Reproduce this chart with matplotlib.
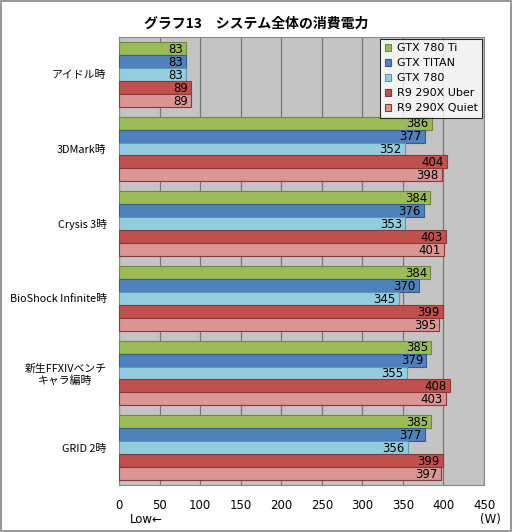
import matplotlib
matplotlib.use('Agg')
import matplotlib.pyplot as plt
from matplotlib.patches import Rectangle
import numpy as np

plt.rcParams['font.family'] = ['Noto Sans CJK JP', 'DejaVu Sans']

categories = ['アイドル時', '3DMark時', 'Crysis 3時', 'BioShock Infinite時',
              '新生FFXIVベンチ\nキャラ編時', 'GRID 2時']
series = ['GTX 780 Ti', 'GTX TITAN', 'GTX 780', 'R9 290X Uber', 'R9 290X Quiet']
gtx780ti = [83, 386, 384, 384, 385, 385]
gtxtitan = [83, 377, 376, 370, 379, 377]
gtx780 = [83, 352, 353, 345, 355, 356]
r9uber = [89, 404, 403, 399, 408, 399]
r9quiet = [89, 398, 401, 395, 403, 397]
values = [gtx780ti, gtxtitan, gtx780, r9uber, r9quiet]
colors = ['#9BBB59', '#4F81BD', '#93CDDD', '#C0504D', '#D99694']
edges = ['#71893F', '#385D8A', '#5E9AAB', '#8C3836', '#8C3836']
xticks = [0, 50, 100, 150, 200, 250, 300, 350, 400, 450]

fig = plt.figure(figsize=(5.12, 5.32), dpi=100)
fig.patches.append(Rectangle((0.002, 0.002), 0.996, 0.996, transform=fig.transFigure,
                             fill=False, edgecolor='#888888', lw=1.2))
ax = fig.add_axes([119/512, 1 - 485/532, 365/512, 448/532])
ax.set_facecolor('#C4C4C4')

h = 0.174
ncat = len(categories)
for i, (vals, c, ec, name) in enumerate(zip(values, colors, edges, series)):
    y = np.arange(ncat) + (i - 2) * h
    ax.barh(y, vals, height=h, color=c, edgecolor=ec, lw=0.8, label=name, zorder=3)
    for yy, v in zip(y, vals):
        ax.text(v - 4, yy + 0.01, str(v), ha='right', va='center', fontsize=8.5,
                family=['DejaVu Sans'], zorder=4)

ax.set_xlim(0, 450)
ax.set_ylim(ncat - 0.5, -0.5)
ax.set_xticks(xticks)
ax.set_xticklabels([str(t) for t in xticks], fontsize=8.5, family=['DejaVu Sans'])
ax.set_yticks(np.arange(ncat))
ax.set_yticklabels(categories, fontsize=7.8, multialignment='center')
ax.tick_params(axis='y', length=0, pad=9)
ax.tick_params(axis='x', length=0, pad=10)
ax.grid(axis='x', color='#777777', lw=0.9, zorder=1)
for s in ax.spines.values():
    s.set_color('#888888')

ax.text(0.03, -0.063, 'Low←', transform=ax.transAxes, fontsize=8.5, ha='left', va='top',
        family=['DejaVu Sans'])
ax.text(1.045, -0.063, '(W)', transform=ax.transAxes, fontsize=8.5, ha='right', va='top',
        family=['DejaVu Sans'])

fig.text(0.5, 1 - 24/532, 'グラフ13\u3000システム全体の消費電力', ha='center', va='center',
         fontsize=10, fontweight='bold')

leg = ax.legend(loc='upper right', frameon=True, fancybox=False,
                handlelength=0.6, handleheight=0.6, handletextpad=0.5, borderpad=0.4,
                labelspacing=0.45, borderaxespad=0.15,
                prop={'family': ['DejaVu Sans'], 'size': 8})
leg.get_frame().set_edgecolor('black')
leg.get_frame().set_linewidth(0.8)
leg.set_zorder(5)

fig.savefig('out.png', dpi=100)
